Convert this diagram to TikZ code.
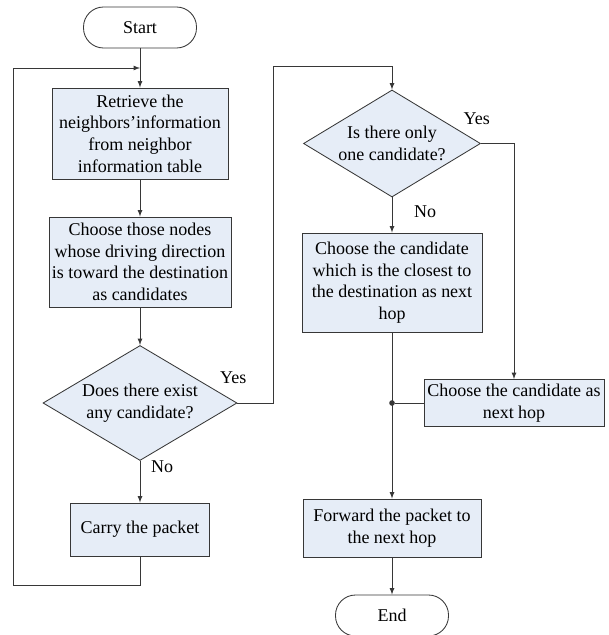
\documentclass[tikz,border=0pt]{standalone}
\usepackage{fontspec}
\setmainfont{Liberation Serif}
\usepackage{xcolor}
\usepackage{tikz}
\usetikzlibrary{arrows, positioning, shapes.geometric, calc}

\definecolor{boxfill}{RGB}{230,237,247}
\definecolor{linegray}{RGB}{55,55,55}

\begin{document}
\begin{tikzpicture}[node distance=2.65cm, >=latex, line width=0.6pt,
    font=\fontsize{12.8}{15.4}\selectfont,
    process/.style={rectangle, draw=linegray, fill=boxfill, align=center, inner xsep=1pt, inner ysep=2pt},
    decision/.style={diamond, aspect=1.68, draw=linegray, fill=boxfill, align=center, inner sep=0pt},
    terminal/.style={rectangle, rounded corners=0.5cm, draw=linegray, fill=white, minimum width=2.825cm, minimum height=1.025cm},
    flow/.style={draw=linegray, ->},
    dot/.style={circle, fill=linegray, inner sep=0pt, minimum size=4pt}]
    \useasboundingbox (0,0) rectangle (15.2,-15.875);

    \node (start) [terminal] at (3.5,-0.6875) {Start};
    \node (retrieve) [process, below of=start, minimum width=4.4cm, minimum height=2.275cm] {Retrieve the\\neighbors’information\\from neighbor\\information table};
    \node (select) [process, below of=retrieve, node distance=3.2125cm, minimum width=4.55cm, minimum height=2.25cm] {Choose those nodes\\whose driving direction\\is toward the destination\\as candidates};
    \node (exist) [decision, below of=select, node distance=3.525cm, minimum width=4.85cm, minimum height=2.875cm] {Does there exist\\any candidate?};
    \node (carry) [process, below of=exist, node distance=3.1625cm, minimum width=3.475cm, minimum height=1.325cm] {Carry the packet};
    \node (only) [decision, right of=retrieve, node distance=6.3cm, yshift=-0.25cm, minimum width=4.425cm, minimum height=2.675cm] {Is there only\\one candidate?};
    \node (closest) [process, below of=only, node distance=3.475cm, minimum width=4.5cm, minimum height=2.475cm] {Choose the candidate\\which is the closest to\\the destination as next\\hop};
    \node (single) [process, right of=exist, node distance=9.35cm, minimum width=4.5cm, minimum height=1.175cm] {Choose the candidate as\\next hop};
    \node (forward) [process, below of=closest, node distance=6.1375cm, minimum width=4.45cm, minimum height=1.45cm] {Forward the packet to\\the next hop};
    \node (end) [terminal, below of=forward, node distance=2.1875cm] {End};
    \node (merge) [dot] at (single.west -| closest.south) {};
    \coordinate (loopin) at ($(start.south)!0.5!(retrieve.north)$);

    \draw [flow] (start) -- (retrieve);
    \draw [flow] (retrieve) -- (select);
    \draw [flow] (select) -- (exist);
    \draw [flow] (exist) -- node[pos=0.15, right, xshift=0.15cm] {No} (carry);
    \draw [flow] (carry.south) -- ++(0,-0.725) -- ++(-3.175,0) |- (loopin);
    \draw [flow] (exist.east) node[above left, xshift=0.35cm, yshift=0.35cm] {Yes} -- ++(0.9,0) |- ($(only.north)+(0,0.575)$) -- (only.north);
    \draw [flow] (only.east) node[above left, xshift=0.35cm, yshift=0.35cm] {Yes} -| (single.north);
    \draw [flow] (only) -- node[pos=0.42, right, xshift=0.425cm] {No} (closest);
    \draw [flow] (closest) -- (forward);
    \draw [draw=linegray] (single) -- (merge);
    \draw [flow] (forward) -- (end);
\end{tikzpicture}
\end{document}
